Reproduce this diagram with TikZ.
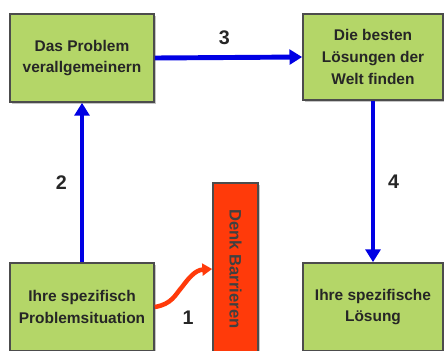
\documentclass[tikz,border=0pt]{standalone}
\usepackage{fontspec}
\setmainfont{Liberation Sans}
\usetikzlibrary{arrows.meta,shadows}
\definecolor{boxgreen}{RGB}{180,214,104}
\definecolor{barrierred}{RGB}{255,58,10}
\definecolor{flowblue}{RGB}{0,0,228}
\tikzset{
  stepbox/.style={draw=black!70, line width=1.2pt, fill=boxgreen, align=center,
    minimum width=3.6cm, minimum height=2.2cm, text=black!85,
    font=\fontsize{11}{15.5}\selectfont\bfseries,
    drop shadow={shadow xshift=1.5pt, shadow yshift=-1.5pt, fill=black!45}},
  barrierbox/.style={draw=black!70, line width=1.2pt, fill=barrierred,
    minimum width=1.125cm, minimum height=4.3cm, text=black!75,
    font=\fontsize{11.8}{13}\selectfont\bfseries,
    drop shadow={shadow xshift=1.5pt, shadow yshift=-1.5pt, fill=black!45}},
  flow/.style={flowblue, line width=3.5pt, -{Triangle[length=9pt,width=10.5pt]}},
  barrier/.style={barrierred, line width=3.2pt, -{Triangle[length=7pt,width=8.5pt]}},
  steplabel/.style={inner sep=0pt, text=black!85, font=\fontsize{14}{14}\selectfont\bfseries}
}
\begin{document}
\begin{tikzpicture}[x=0.025cm, y=-0.025cm]
    \clip (0,0) rectangle (444,350);
    % Boxes
    \node[stepbox] (general) at (82,58) {Das Problem\\verallgemeinern};
    \node[stepbox, minimum width=3.5cm, minimum height=2.15cm] (best) at (373,57) {Die besten\\Lösungen der\\Welt finden};
    \node[stepbox] (specific) at (82,307) {Ihre spezifisch\\Problemsituation};
    \node[stepbox, minimum width=3.5cm] (solution) at (373,307) {Ihre spezifische\\Lösung};
    \node[barrierbox] (barrier) at (235.5,269) {\rotatebox{-90}{Denk Barrieren}};

    % Blue steps
    \draw[flow] (specific.north) -- (general.south) node[midway, left=9pt, steplabel] {2};
    \draw[flow] (general.east) -- (best.west) node[midway, above=7.5pt, xshift=-3pt, steplabel] {3};
    \draw[flow] (best.south) -- (solution.north) node[midway, right=9pt, steplabel] {4};

    % Red step into the barrier
    \draw[barrier] (specific.east) .. controls (172,304) and (175,295) .. (182,287)
        .. controls (188,279) and (195,270) .. (barrier.west);
    \node[steplabel] (one) at (188,318) {1};
\end{tikzpicture}
\end{document}
